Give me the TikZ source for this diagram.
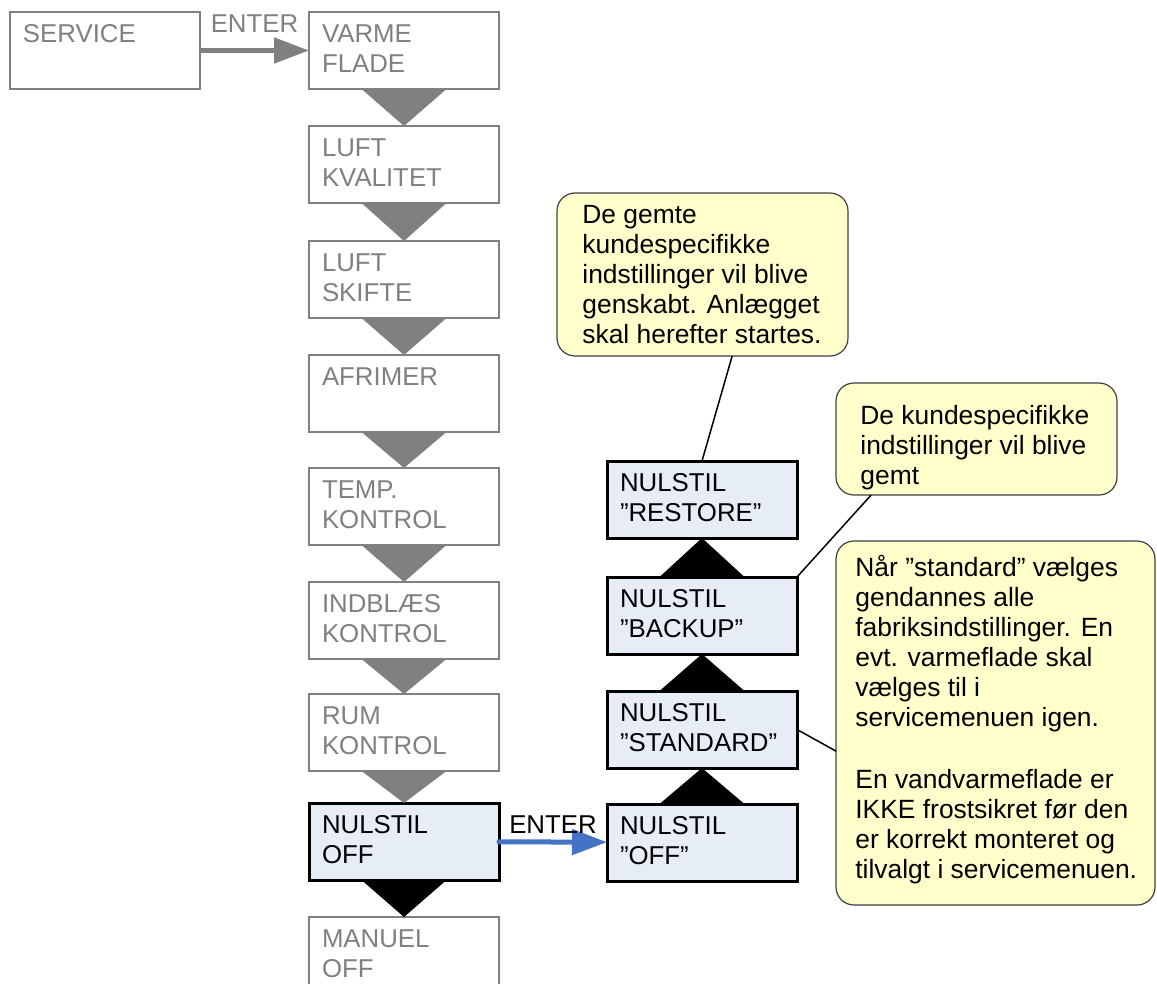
\documentclass[tikz,border=0pt]{standalone}
\usepackage{fontspec}
\setmainfont{Liberation Sans}
\usetikzlibrary{arrows.meta,calc}
\definecolor{menugray}{HTML}{808080}
\definecolor{selblue}{HTML}{E7EDF7}
\definecolor{notefill}{HTML}{FFFFCC}
\definecolor{enterblue}{HTML}{4472C4}

\begin{document}
\begin{tikzpicture}[x=0.5pt,y=-0.5pt,font=\fontsize{12.9}{15}\selectfont,
    menu/.style={draw=menugray,line width=1.25pt,text=menugray,fill=white,anchor=north west,
      align=left,text width=82pt,inner xsep=6.5pt,inner ysep=0pt,outer sep=0pt,
      text height=15.25pt,text depth=23.25pt},
    chosen/.style={menu,draw=black,text=black,fill=selblue,line width=1.5pt},
    note/.style={draw=black!75,line width=0.6pt,fill=notefill,rounded corners=9pt,
      anchor=north west,inner sep=0pt,outer sep=0pt},
    notetext/.style={anchor=north west,align=left,inner sep=0pt,font=\fontsize{13.2}{15}\selectfont},
    conn/.style={draw=black,line width=0.75pt},
    enter/.style={line width=2.5pt,-{Triangle[length=17.5pt,width=12.5pt]}}]
  \useasboundingbox (0,0) rectangle (1157,984);

  % service menu, left column
  \node[menu] (service) at (10,12) {SERVICE};
  \node[menu] (varme) at (309,12) {VARME\\FLADE};
  \node[menu] (kval) at (309,126) {LUFT\\KVALITET};
  \node[menu] (skifte) at (309,241) {LUFT\\SKIFTE};
  \node[menu] (afrimer) at (309,355) {AFRIMER};
  \node[menu] (temp) at (309,468) {TEMP.\\KONTROL};
  \node[menu] (indblaes) at (309,582) {INDBLÆS\\KONTROL};
  \node[menu] (rum) at (309,694) {RUM\\KONTROL};
  \node[chosen] (nulstil) at (309,803) {NULSTIL\\OFF};
  \node[menu] (manuel) at (309,917) {MANUEL\\OFF};

  % reset choices, right column
  \node[chosen] (off) at (607,804) {NULSTIL\\”OFF”};
  \node[chosen] (standard) at (607,691) {NULSTIL\\”STANDARD”};
  \node[chosen] (backup) at (607,577) {NULSTIL\\”BACKUP”};
  \node[chosen] (restore) at (607,461) {NULSTIL\\”RESTORE”};

  % step triangles
  \foreach \a/\b in {varme/kval,kval/skifte,skifte/afrimer,afrimer/temp,temp/indblaes,indblaes/rum,rum/nulstil}
    \fill[menugray] ($(\a.south)+(-42.5,0)$) -- ($(\a.south)+(42.5,0)$) -- (\b.north) -- cycle;
  \fill[black] ($(nulstil.south)+(-42.5,0)$) -- ($(nulstil.south)+(42.5,0)$) -- (manuel.north) -- cycle;
  \foreach \a/\b in {off/standard,standard/backup,backup/restore}
    \fill[black] ($(\a.north)+(-42.5,0)$) -- ($(\a.north)+(42.5,0)$) -- (\b.south) -- cycle;

  % enter arrows
  \draw[enter,menugray] (service) -- node[above=7.5pt,inner sep=0pt,text=menugray] (enter1) {ENTER} (varme);
  \draw[enter,enterblue,line cap=round] (nulstil) -- node[above=3pt,inner sep=0pt,text=black] (enter2) {ENTER} (off);

  % notes
  \node[note,minimum width=145.5pt,minimum height=81.5pt] (note1) at (557,193) {};
  \node[notetext] (note1txt) at (582,205) {De gemte\\kundespecifikke\\indstillinger vil blive\\genskabt. Anlægget\\skal herefter startes.};
  \node[note,minimum width=140.5pt,minimum height=56pt] (note2) at (836,383) {};
  \node[notetext] (note2txt) at (860,405) {De kundespecifikke\\indstillinger vil blive\\gemt};
  \node[note,minimum width=159.5pt,minimum height=182pt] (note3) at (836,541) {};
  \node[notetext] (note3txt) at (855,555) {Når ”standard” vælges\\gendannes alle\\fabriksindstillinger. En\\evt. varmeflade skal\\vælges til i\\servicemenuen igen.\\[16pt]En vandvarmeflade er\\IKKE frostsikret før den\\er korrekt monteret og\\tilvalgt i servicemenuen.};

  \draw[conn] (note1.-70) -- (restore.north);
  \draw[conn] (note2.-152) -- (backup.north east);
  \draw[conn] (standard.east) -- (note3.190);
\end{tikzpicture}
\end{document}
